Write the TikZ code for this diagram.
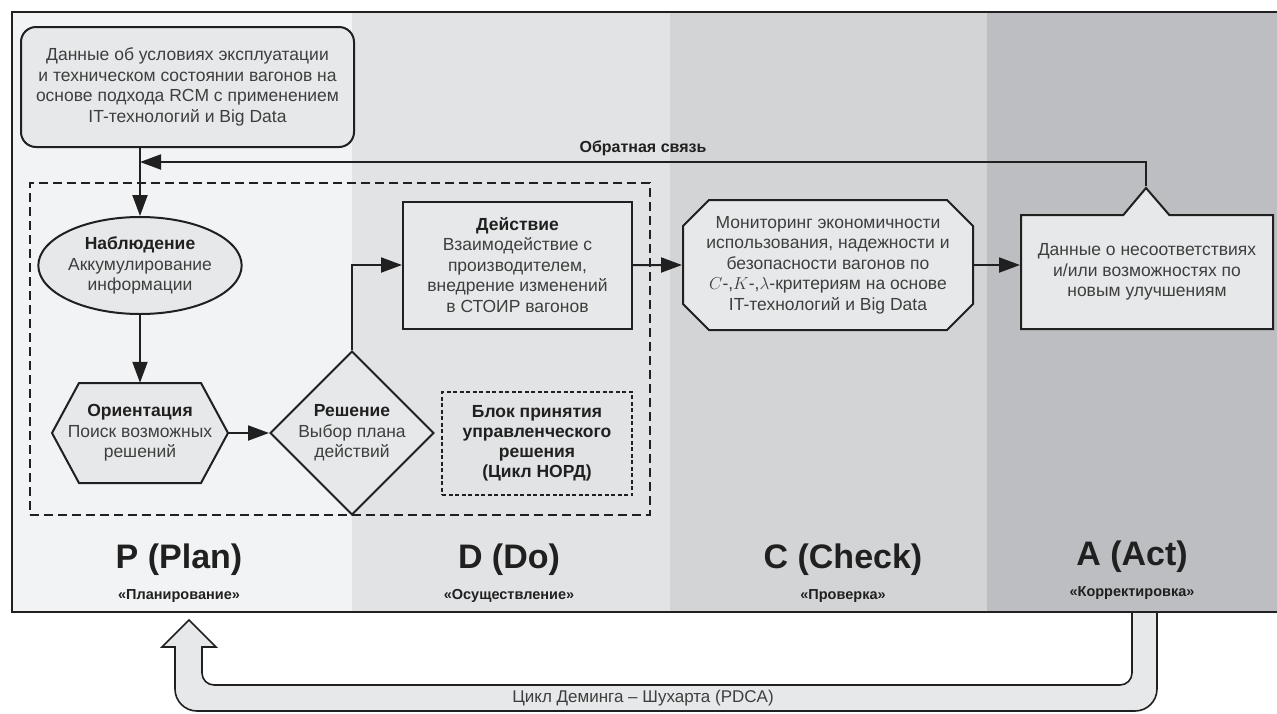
\documentclass[tikz,border=0pt]{standalone}
\usepackage{fontspec}
\setmainfont{Liberation Sans}
\usetikzlibrary{
		positioning,
		arrows.meta,
		calc,
		shapes.geometric,
		shapes.misc,
		shapes.callouts
	}
\definecolor{colP}{HTML}{F2F3F4}
\definecolor{colD}{HTML}{E2E3E5}
\definecolor{colC}{HTML}{D3D4D6}
\definecolor{colA}{HTML}{BDBEC1}
\definecolor{boxfill}{HTML}{E7E8E9}
\definecolor{ink}{HTML}{202020}
\definecolor{txt}{HTML}{3E3E3E}
\newcommand\boxtitle[1]{{\color{ink}\bfseries #1}}
\tikzset{
		>={Triangle[length=21pt,width=15pt]},
		arr/.style={->, draw=ink, line width=2pt},
		blk/.style={draw=ink, line width=2pt, fill=boxfill, text=txt, align=center, inner sep=0pt, font=\fontsize{17.5}{20.5}\selectfont},
		phase/.style={text=ink, font=\fontsize{34}{38}\selectfont\bfseries},
		phasesub/.style={text=ink, font=\fontsize{14.5}{16}\selectfont\bfseries}
	}

\begin{document}
\begin{tikzpicture}[x=1pt, y=-1pt] % (one unit = one pixel of the reference, y downwards)
		\useasboundingbox (0,0) rectangle (1277,713);
		% the four PDCA columns
		\foreach \xa/\xb/\c in {12/352/colP, 352/670/colD, 670/987/colC, 987/1280/colA} {
			\fill[\c] (\xa,12) rectangle (\xb,612);
		}
		\draw[ink, line width=2pt] (1280,12) -- (12,12) -- (12,612) -- (1280,612);
		\foreach \nm/\cx/\by/\lbl/\sublbl in {plan/179/568/P (Plan)/Планирование, do/509/568/D (Do)/Осуществление, check/843/568/C (Check)/Проверка, act/1132/565/A (Act)/Корректировка} {
			\node[phase, anchor=base] (\nm) at (\cx,\by) {\lbl};
			\node[phasesub, anchor=base] (\nm sub) at (\cx,\by+31) {«\sublbl»};
		}
		% OODA block
		\node[draw=ink, line width=1.6pt, dash pattern=on 9pt off 5pt, inner sep=0pt, minimum width=620pt, minimum height=332pt] (block) at (340,349) {};
		\node[blk, rounded corners=15pt, minimum width=333pt, minimum height=120pt] (data) at (187.5,87) {Данные об условиях эксплуатации\\и техническом состоянии вагонов на\\основе подхода RCM с применением\\IT-технологий и Big Data};
		\node[blk, ellipse, minimum width=195pt, minimum height=97pt] (obs) at (140,265.5) {\boxtitle{Наблюдение}\\Аккумулирование\\информации};
		\coordinate (orientc) at (140,433);
		\draw[ink, line width=2pt, fill=boxfill] ($(orientc)+(-88,0)$) -- ++(27,-50) -- ++(122,0) -- ++(27,50) -- ++(-27,50) -- ++(-122,0) -- cycle;
		\node[text=txt, align=center, inner sep=0pt, minimum width=176pt, minimum height=100pt, font=\fontsize{17.5}{20.5}\selectfont] (orient) at (orientc) {\boxtitle{Ориентация}\\Поиск возможных\\решений};
		\node[blk, diamond, minimum width=159pt, minimum height=158pt] (decide) at (352,433) {\boxtitle{Решение}\\Выбор плана\\действий};
		\node[blk, minimum width=229pt, minimum height=127pt] (act) at (517.5,265) {\boxtitle{Действие}\\Взаимодействие с\\производителем,\\внедрение изменений\\в СТОИР вагонов};
		\node[draw=ink, line width=1.6pt, dash pattern=on 4pt off 2.5pt, inner sep=0pt, minimum width=190pt, minimum height=103pt, align=center, text=ink, font=\fontsize{17.5}{20}\selectfont\bfseries] (nord) at (537,443.5) {Блок принятия\\управленческого\\решения\\(Цикл НОРД)};
		% check and act
		\node[blk, chamfered rectangle, chamfered rectangle xsep=13pt, chamfered rectangle ysep=13pt, minimum width=290pt, minimum height=130pt] (mon) at (828,265) {Мониторинг экономичности\\использования, надежности и\\безопасности вагонов по\\$C$-,$K$-,$\lambda$-критериям на основе\\IT-технологий и Big Data};
		\node[blk, rectangle callout, callout absolute pointer={(1146,188)}, callout pointer width=46pt, minimum width=252pt, minimum height=114pt] (fix) at (1147,272) {Данные о несоответствиях\\и/или возможностях по\\новым улучшениям};
		\coordinate (fbin) at (140,162);
		% connectors
		\draw[arr] (data.south -| obs.north) -- (obs.north);
		\draw[arr] (obs) -- (orient);
		\draw[arr] (orient) -- (decide);
		\draw[arr] (decide.north) |- (act.west);
		\draw[arr] (act) -- (mon);
		\draw[arr] (mon.east) -- (mon.east -| fix.west);
		\draw[arr] (fix.pointer) |- node[pos=0.75, above=2pt, text=ink, font=\fontsize{16}{18}\selectfont\bfseries] (fblabel) {Обратная связь} (fbin);
		% Deming cycle return pipe
		\draw[ink, line width=1.6pt, fill=boxfill] (1132,613) [rounded corners=12pt] -- (1132,685) -- (202,685) [sharp corners] -- (202,647) -- (216,647) -- (189,620) -- (162,647) -- (175,647) [rounded corners=22pt] -- (175,711) -- (1157,711) [sharp corners] -- (1157,613);
		\node[text=txt, font=\fontsize{17}{19}\selectfont] (pdca) at (643,698) {Цикл Деминга – Шухарта (PDCA)};
	\end{tikzpicture}
\end{document}
